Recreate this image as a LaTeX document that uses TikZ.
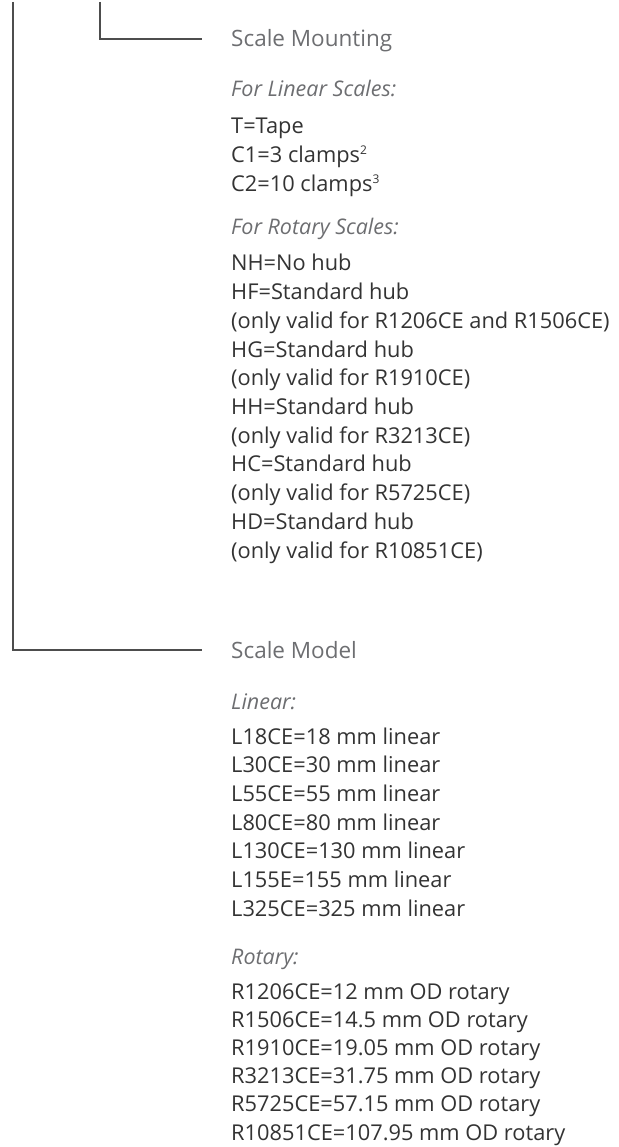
\documentclass[tikz,border=0pt]{standalone}
\usepackage{fontspec}
\setmainfont{Open Sans}
\usepackage{xcolor}
\usepackage{tikz}
\definecolor{headgray}{HTML}{6D6E71}
\definecolor{bodygray}{HTML}{333333}
\definecolor{linegray}{HTML}{4D4D4D}
\tikzset{
  head/.style={anchor=base west, inner sep=0pt, text height=16pt, text depth=0pt, text=headgray, font=\fontsize{22.5}{26}\selectfont},
  subhead/.style={anchor=base west, inner sep=0pt, text=headgray, font=\fontsize{21.5}{26}\selectfont\itshape},
  item/.style={anchor=base west, inner sep=0pt, text=bodygray, font=\fontsize{21.8}{26}\selectfont},
  tree/.style={draw=linegray, line width=1.3pt, shorten >=29pt}
}
\newcommand{\fnote}[1]{\raisebox{8pt}{\fontsize{12}{12}\selectfont #1}}

\begin{document}
\begin{tikzpicture}[x=1pt,y=-1pt]
    \useasboundingbox (0,0) rectangle (618,1147);
    % mounting options
    \node[head] (mount) at (231,47) {Scale Mounting};
    \node[subhead] (linmount) at (231,97) {For Linear Scales:};
    \foreach \t [count=\i] in {T=Tape, C1=3 clamps\fnote{2}, C2=10 clamps\fnote{3}}
        \node[item] (lm-\i) at (231,{134+(\i-1)*28.8}) {\t};
    \node[subhead] (rotmount) at (231,235) {For Rotary Scales:};
    \foreach \t [count=\i] in {NH=No hub, HF=Standard hub, (only valid for R1206CE and R1506CE),
        HG=Standard hub, (only valid for R1910CE), HH=Standard hub, (only valid for R3213CE),
        HC=Standard hub, (only valid for R5725CE), HD=Standard hub, (only valid for R10851CE)}
        \node[item] (rm-\i) at (231,{271+(\i-1)*28.7}) {\t};
    % scale models
    \node[head] (model) at (231,658) {Scale Model};
    \node[subhead] (linmodel) at (231,709) {Linear:};
    \foreach \t [count=\i] in {L18CE=18 mm linear, L30CE=30 mm linear, L55CE=55 mm linear,
        L80CE=80 mm linear, L130CE=130 mm linear, L155E=155 mm linear, L325CE=325 mm linear}
        \node[item] (lmod-\i) at (231,{744+(\i-1)*28.7}) {\t};
    \node[subhead] (rotmodel) at (231,964) {Rotary:};
    \foreach \t [count=\i] in {R1206CE=12 mm OD rotary, R1506CE=14.5 mm OD rotary,
        R1910CE=19.05 mm OD rotary, R3213CE=31.75 mm OD rotary,
        R5725CE=57.15 mm OD rotary, R10851CE=107.95 mm OD rotary}
        \node[item] (rmod-\i) at (231,{999+(\i-1)*28.2}) {\t};
    % tree lines
    \coordinate (mtop) at (100,2);
    \coordinate (stop) at (13,2);
    \draw[tree] (mtop) |- (mount.west);
    \draw[tree] (stop) |- (model.west);
\end{tikzpicture}
\end{document}
